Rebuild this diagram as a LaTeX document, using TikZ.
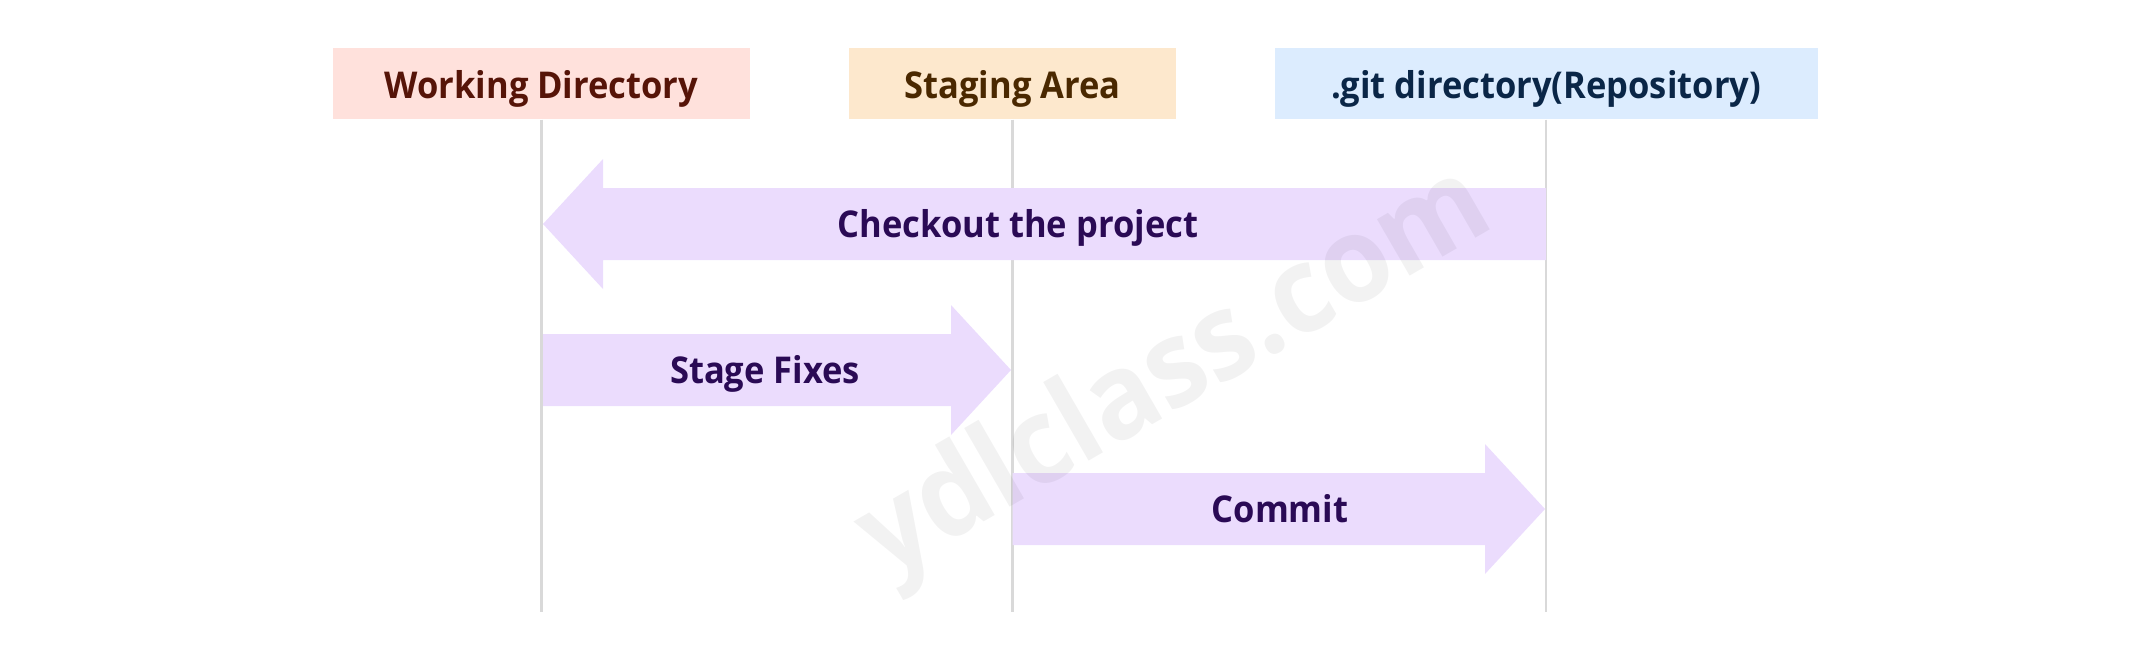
\documentclass[tikz,border=0pt]{standalone}
\usepackage{fontspec}
\setmainfont{Open Sans}[FakeStretch=0.935]
\usetikzlibrary{positioning}

\definecolor{wdfill}{HTML}{FFE1DC}
\definecolor{wdtext}{HTML}{561408}
\definecolor{safill}{HTML}{FDE8CD}
\definecolor{satext}{HTML}{4A2800}
\definecolor{gitfill}{HTML}{DCECFE}
\definecolor{gittext}{HTML}{0A2647}
\definecolor{flowfill}{HTML}{EBDCFD}
\definecolor{flowtext}{HTML}{2A0A55}
\definecolor{linegray}{HTML}{D9D9D9}

\begin{document}
\begin{tikzpicture}[font=\fontsize{10.5}{12}\selectfont\bfseries]

\tikzstyle{area} = [rectangle, minimum height=0.71cm, inner sep=0pt, text height=0.29cm, text depth=0cm, text centered]
\tikzstyle{lifeline} = [line width=0.8pt, draw=linegray]
\tikzstyle{flow} = [fill=flowfill]
\tikzstyle{flow label} = [text=flowtext, inner sep=0pt, text height=0.26cm, text depth=0cm]

\useasboundingbox (0,0) rectangle (21.48,6.54);

\node (wd) [area, fill=wdfill, text=wdtext, minimum width=4.17cm] at (5.415,5.705) {Working Directory};
\node (sa) [area, fill=safill, text=satext, minimum width=3.27cm] at (10.125,5.705) {Staging Area};
\node (git) [area, fill=gitfill, text=gittext, minimum width=5.43cm] at (15.46,5.705) {.git directory(Repository)};

\coordinate (wd end) at (5.415,0.42);
\coordinate (sa end) at (10.125,0.42);
\coordinate (git end) at (15.46,0.42);

\draw [lifeline] (wd) -- (wd end);
\draw [lifeline] (sa) -- (sa end);
\draw [lifeline] (git) -- (git end);

\fill [flow] (5.43,4.30) -- (6.03,4.95) -- (6.03,4.66) -- (15.46,4.66) -- (15.46,3.94) -- (6.03,3.94) -- (6.03,3.65) -- cycle;
\fill [flow] (10.11,2.84) -- (9.51,3.49) -- (9.51,3.20) -- (5.43,3.20) -- (5.43,2.48) -- (9.51,2.48) -- (9.51,2.19) -- cycle;
\fill [flow] (15.45,1.45) -- (14.85,2.10) -- (14.85,1.81) -- (10.125,1.81) -- (10.125,1.09) -- (14.85,1.09) -- (14.85,0.80) -- cycle;

\node (checkout) [flow label] at (10.18,4.30) {Checkout the project};
\node (stage) [flow label] at (7.65,2.84) {Stage Fixes};
\node (commit) [flow label] at (12.80,1.45) {Commit};

\node (mark) [rotate=30, anchor=base, text=black, opacity=0.05, font=\fontsize{34}{40}\selectfont\bfseries] at (11.92,2.52) {ydlclass.com};

\end{tikzpicture}
\end{document}
